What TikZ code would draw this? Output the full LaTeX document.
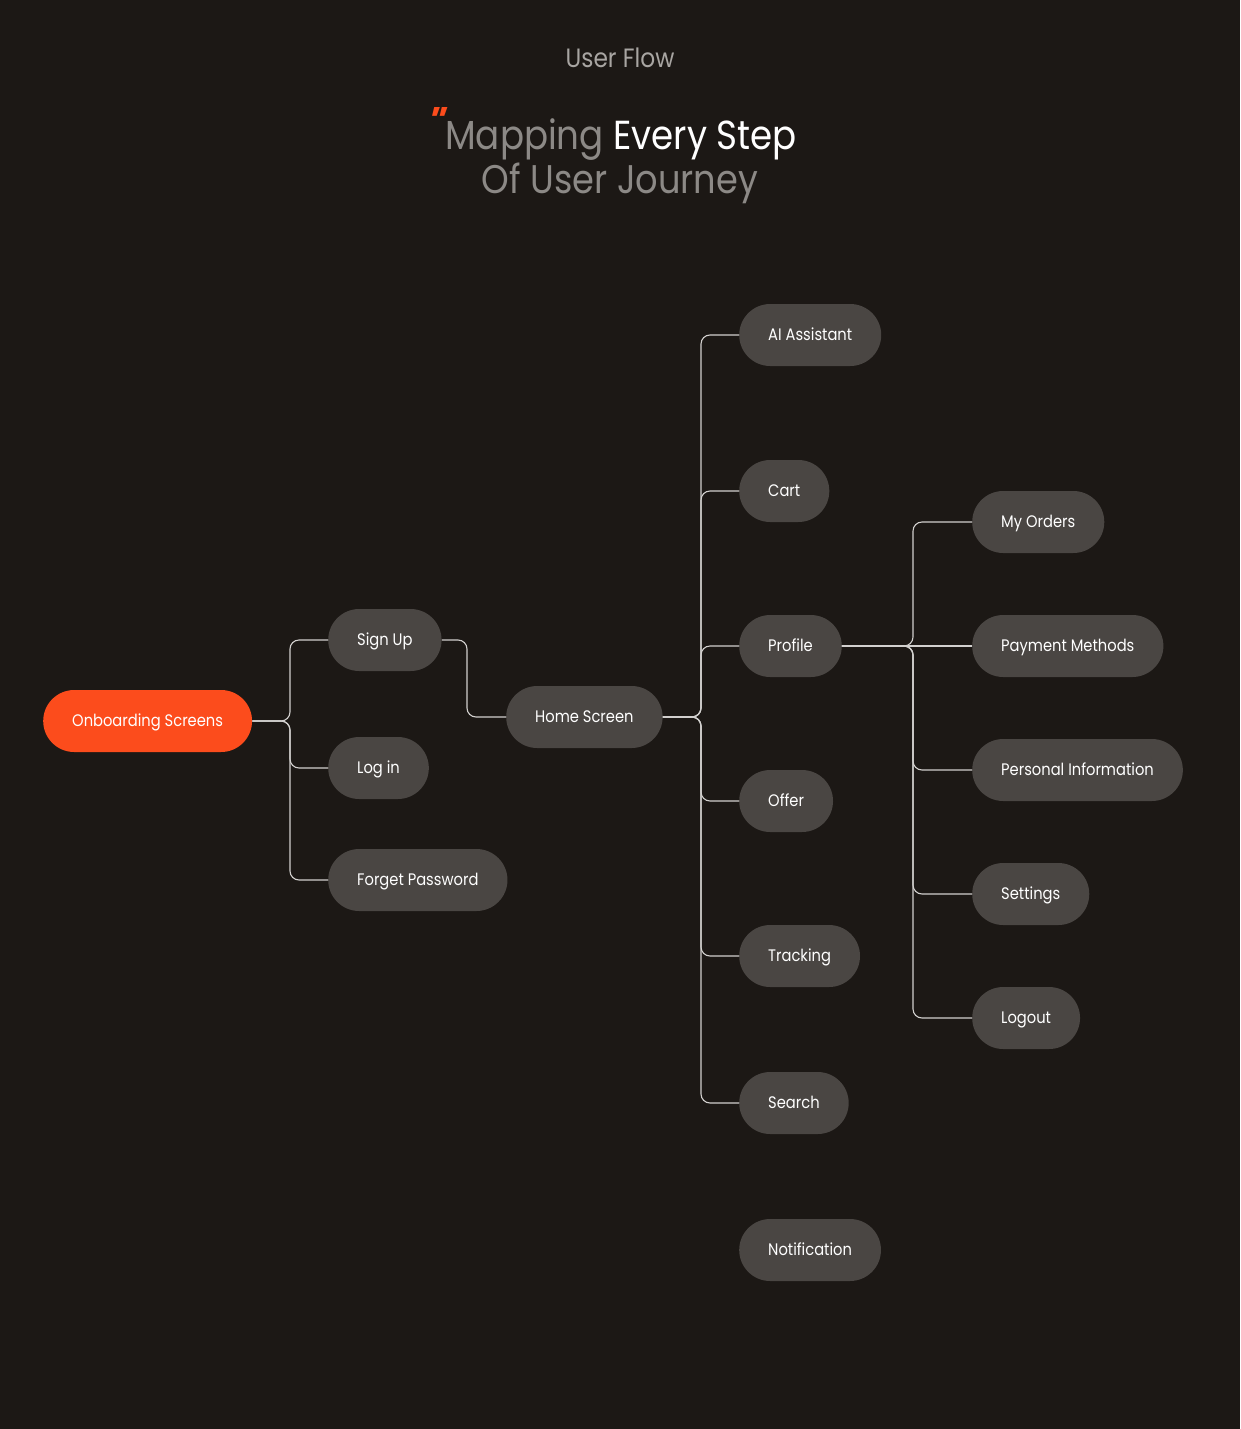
\documentclass[tikz,border=0pt]{standalone}
\usepackage{fontspec}
\setmainfont{Poppins}[FakeStretch=0.88]
\newfontfamily\quotefont{Poppins}[FakeSlant=0.3]
\definecolor{bg}{HTML}{1C1815}
\definecolor{boxfill}{HTML}{4A4643}
\definecolor{accent}{HTML}{FC4C1C}
\definecolor{titlegrey}{HTML}{8C8986}
\definecolor{headgrey}{HTML}{A8A5A2}
\definecolor{linegrey}{HTML}{D2D0CE}
\tikzset{
  box/.style={fill=boxfill, rounded corners=31pt, minimum height=62pt,
    inner xsep=29pt, inner ysep=0pt, text=white, anchor=west,
    font=\fontsize{16.7}{20}\selectfont, text height=11.5pt, text depth=0pt},
  startbox/.style={box, fill=accent},
  conn/.style={draw=linegrey, line width=1.1pt, rounded corners=9pt}
}
\begin{document}
\begin{tikzpicture}[x=1pt,y=-1pt]
\fill[bg] (0,0) rectangle (1240,1429);
\useasboundingbox (0,0) rectangle (1240,1429);

% titles
\node[text=headgrey, font=\fontsize{26.5}{30}\selectfont] (t1) at (620,58) {User Flow};
\node[font=\fontsize{40.5}{46}\selectfont, anchor=base] (t2) at (621,149)
  {\textcolor{titlegrey}{Mapping} \textcolor{white}{Every Step}};
\node[font=\fontsize{40}{46}\selectfont, anchor=base, text=titlegrey] (t3) at (620,193) {Of User Journey};
\node[font=\fontsize{40}{44}\selectfont\quotefont\bfseries, text=accent, anchor=base, inner sep=0pt] (q) at (432,139) {"};

% nodes
\node[startbox] (onb) at (43,721) {Onboarding Screens};
\node[box] (signup) at (328,640) {Sign Up};
\node[box] (login) at (328,768) {Log in};
\node[box] (forget) at (328,880) {Forget Password};
\node[box] (home) at (506,717) {Home Screen};
\node[box] (ai) at (739,335) {AI Assistant};
\node[box] (cart) at (739,491) {Cart};
\node[box] (profile) at (739,646) {Profile};
\node[box] (offer) at (739,801) {Offer};
\node[box] (track) at (739,956) {Tracking};
\node[box] (search) at (739,1103) {Search};
\node[box] (notif) at (739,1250) {Notification};
\node[box] (orders) at (972,522) {My Orders};
\node[box] (pay) at (972,646) {Payment Methods};
\node[box] (info) at (972,770) {Personal Information};
\node[box] (settings) at (972,894) {Settings};
\node[box] (logout) at (972,1018) {Logout};

% junction columns
\coordinate (j1) at (290,0);
\coordinate (j2) at (467,0);
\coordinate (j3) at (701,0);
\coordinate (j4) at (913,0);

\foreach \c in {signup,login,forget}
  \draw[conn] (onb.east) -- (onb.east -| j1) -- (\c.west -| j1) -- (\c.west);
\draw[conn] (signup.east) -- (signup.east -| j2) -- (home.west -| j2) -- (home.west);
\foreach \c in {ai,cart,profile,offer,track,search}
  \draw[conn] (home.east) -- (home.east -| j3) -- (\c.west -| j3) -- (\c.west);
\foreach \c in {orders,info,settings,logout}
  \draw[conn] (profile.east) -- (profile.east -| j4) -- (\c.west -| j4) -- (\c.west);
\draw[conn] (profile.east) -- (pay.west);
\end{tikzpicture}
\end{document}
